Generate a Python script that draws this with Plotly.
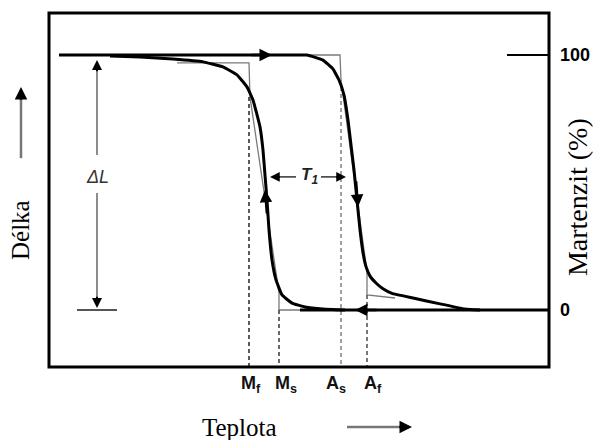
import plotly.graph_objects as go

# Temperature axis in arbitrary units (0-100), martensite fraction in percent.
# Cooling branch (austenite -> martensite), traced from the martensite plateau down.
cool_T = [12.2, 18.2, 24.8, 30.8, 34.8, 37.6, 39.6, 40.8, 42.2, 42.8, 43.2, 43.6,
          44.0, 44.6, 45.4, 46.6, 48.6, 51.2, 54.8, 59.2]
cool_M = [99.6, 99.2, 98.4, 97.3, 95.3, 92.2, 87.5, 82.4, 71.8, 62.7, 52.9, 43.1,
          31.4, 19.6, 11.8, 5.9, 2.7, 1.2, 0.4, 0.0]

# Heating branch (martensite -> austenite), including the upper plateau.
heat_T = [2.0, 48.2, 51.6, 54.8, 56.8, 58.0, 59.0, 59.8, 60.4, 61.0, 61.6, 62.2,
          62.8, 63.4, 64.2, 65.4, 66.8, 68.6, 72.8, 78.2, 83.2, 86.2]
heat_M = [100.0, 100.0, 100.0, 98.0, 94.5, 90.2, 84.3, 74.5, 64.7, 54.9, 43.1, 31.4,
          22.5, 17.0, 13.3, 10.6, 8.3, 6.5, 4.7, 2.4, 0.4, 0.0]

# Lower plateau (fully austenitic)
base_T = [50.2, 100.0]
base_M = [0.0, 0.0]

# Idealised (piecewise-linear) transformation lines
ideal_cool_T = [25.6, 40.0, 40.2, 46.0, 46.0, 54.2]
ideal_cool_M = [96.9, 96.9, 83.5, 6.7, 0.0, 0.0]
ideal_heat_T = [48.0, 58.2, 58.4, 63.6, 63.6, 69.2]
ideal_heat_M = [100.0, 100.0, 90.2, 14.9, 5.9, 4.7]

# Characteristic temperatures: name, position, top of the guide line, label position
temp_names = ["M<sub>f</sub>", "M<sub>s</sub>", "A<sub>s</sub>", "A<sub>f</sub>"]
temp_pos = [40.0, 46.0, 58.4, 63.6]
temp_top = [83.5, 0.0, 90.2, 5.9]
temp_label_pos = [40.4, 47.4, 57.4, 64.8]
temp_colors = ["#333333", "#444444", "#8a8a8a", "#555555"]

Y_MIN, Y_MAX = -22.35, 116.47
right_ticks = [0, 100]
right_labels = ["0", "100"]

serif = "Liberation Serif, Times New Roman, serif"
sans = "Liberation Sans, Arial, sans-serif"

fig = go.Figure()

# idealised lines (thin grey)
fig.add_trace(go.Scatter(x=ideal_cool_T, y=ideal_cool_M, mode="lines",
                         line=dict(color="#7a7a7a", width=1.3), hoverinfo="skip"))
fig.add_trace(go.Scatter(x=ideal_heat_T, y=ideal_heat_M, mode="lines",
                         line=dict(color="#7a7a7a", width=1.3), hoverinfo="skip"))

# dashed guides at the characteristic temperatures
for xp, top, col in zip(temp_pos, temp_top, temp_colors):
    fig.add_trace(go.Scatter(x=[xp, xp], y=[top, Y_MIN], mode="lines",
                             line=dict(color=col, width=1.6, dash="4px,3px"),
                             hoverinfo="skip"))

# hysteresis branches (thick black)
for tx, ty in [(heat_T, heat_M), (cool_T, cool_M), (base_T, base_M)]:
    fig.add_trace(go.Scatter(x=tx, y=ty, mode="lines",
                             line=dict(color="black", width=3, shape="spline", smoothing=0.3),
                             hoverinfo="skip"))

annotations = []

def arrow(tip, tail, width=2.5, size=1.0, color="black", head=2):
    annotations.append(dict(x=tip[0], y=tip[1], ax=tail[0], ay=tail[1],
                            xref="x", yref="y", axref="x", ayref="y",
                            text="", showarrow=True, arrowhead=head,
                            arrowsize=size, arrowwidth=width, arrowcolor=color))

# direction arrows on the loop
arrow((44.6, 100.0), (40.2, 100.0))   # heating along upper plateau
arrow((61.2, 0.0), (65.8, 0.0))       # cooling along lower plateau
arrow((43.2, 47.1), (43.6, 37.3))     # martensite forming on cooling
arrow((61.8, 40.4), (61.4, 51.0))     # martensite reverting on heating

# Delta L dimension arrow
dl_x = 9.6
shapes = [
    dict(type="line", xref="x", yref="y", x0=dl_x, x1=dl_x, y0=60.8, y1=95.0,
         line=dict(color="#8c8c8c", width=2)),
    dict(type="line", xref="x", yref="y", x0=dl_x, x1=dl_x, y0=45.9, y1=4.0,
         line=dict(color="#8c8c8c", width=2)),
    dict(type="line", xref="x", yref="y", x0=5.6, x1=13.6, y0=0.0, y1=0.0,
         line=dict(color="#555555", width=2)),
]
arrow((dl_x, 98.0), (dl_x, 93.0), width=2, size=1.0)
arrow((dl_x, 0.8), (dl_x, 5.8), width=2, size=1.0)
annotations.append(dict(x=dl_x, y=52.0, xref="x", yref="y", text="<i>\u0394L</i>",
                        showarrow=False, xanchor="center", yanchor="middle",
                        font=dict(family=sans, size=18, color="#333333")))

# T1 hysteresis width
shapes.append(dict(type="line", xref="x", yref="y", x0=45.5, x1=49.4, y0=52.2, y1=52.2,
                   line=dict(color="#333333", width=1.5)))
shapes.append(dict(type="line", xref="x", yref="y", x0=54.4, x1=58.0, y0=52.2, y1=52.2,
                   line=dict(color="#333333", width=1.5)))
arrow((44.2, 52.2), (46.5, 52.2), width=1.5, size=1.3)
arrow((59.4, 52.2), (57.1, 52.2), width=1.5, size=1.3)
annotations.append(dict(x=52.0, y=52.4, xref="x", yref="y",
                        text="<b><i>T<sub>1</sub></i></b>",
                        showarrow=False, xanchor="center", yanchor="middle",
                        font=dict(family=sans, size=17, color="#222222")))

# characteristic temperature labels below the frame
for name, xp in zip(temp_names, temp_label_pos):
    annotations.append(dict(x=xp, y=-0.05, xref="x", yref="paper", text="<b>" + name + "</b>",
                            showarrow=False, xanchor="center", yanchor="middle",
                            font=dict(family=sans, size=18, color="#111111")))

# axis titles
annotations.append(dict(x=0.38, y=-0.17, xref="paper", yref="paper", text="Teplota",
                        showarrow=False, xanchor="center", yanchor="middle",
                        font=dict(family=serif, size=25, color="black")))
annotations.append(dict(x=-0.058, y=0.387, xref="paper", yref="paper", text="D\u00e9lka",
                        showarrow=False, textangle=-90, xanchor="center", yanchor="middle",
                        font=dict(family=serif, size=25, color="black")))
annotations.append(dict(x=1.056, y=0.48, xref="paper", yref="paper", text="Martenzit (%)",
                        showarrow=False, textangle=-90, xanchor="center", yanchor="middle",
                        font=dict(family=serif, size=28, color="black")))

# direction arrows next to the axis titles
shapes.append(dict(type="line", xref="paper", yref="paper", x0=0.596, x1=0.706,
                   y0=-0.1695, y1=-0.1695, line=dict(color="#777777", width=2.5)))
annotations.append(dict(x=0.726, y=-0.1695, xref="paper", yref="paper", ax=-14, ay=0,
                        text="", showarrow=True, arrowhead=2, arrowsize=1.0,
                        arrowwidth=2.5, arrowcolor="black"))
shapes.append(dict(type="line", xref="paper", yref="paper", x0=-0.056, x1=-0.056,
                   y0=0.590, y1=0.76, line=dict(color="#777777", width=2.5)))
annotations.append(dict(x=-0.056, y=0.791, xref="paper", yref="paper", ax=0, ay=14,
                        text="", showarrow=True, arrowhead=2, arrowsize=1.0,
                        arrowwidth=2.5, arrowcolor="black"))

# frame
shapes.append(dict(type="rect", xref="paper", yref="paper", x0=0, x1=1, y0=0, y1=1,
                   line=dict(color="black", width=3)))

fig.update_layout(
    width=593, height=440,
    margin=dict(l=49, r=44, t=13, b=73, autoexpand=False),
    paper_bgcolor="white", plot_bgcolor="white",
    showlegend=False,
    shapes=shapes, annotations=annotations,
    xaxis=dict(range=[0, 100], showgrid=False, zeroline=False, showticklabels=False,
               ticks="", showline=False, automargin=False),
    yaxis=dict(range=[Y_MIN, Y_MAX], side="right", showgrid=False, zeroline=False,
               tickvals=right_ticks, ticktext=right_labels, ticks="inside",
               ticklen=42, tickwidth=2, tickcolor="black", showline=False,
               ticklabelstandoff=10, automargin=False,
               tickfont=dict(family=sans, size=18, color="black", weight="bold")),
)

fig.write_html("out.html")
